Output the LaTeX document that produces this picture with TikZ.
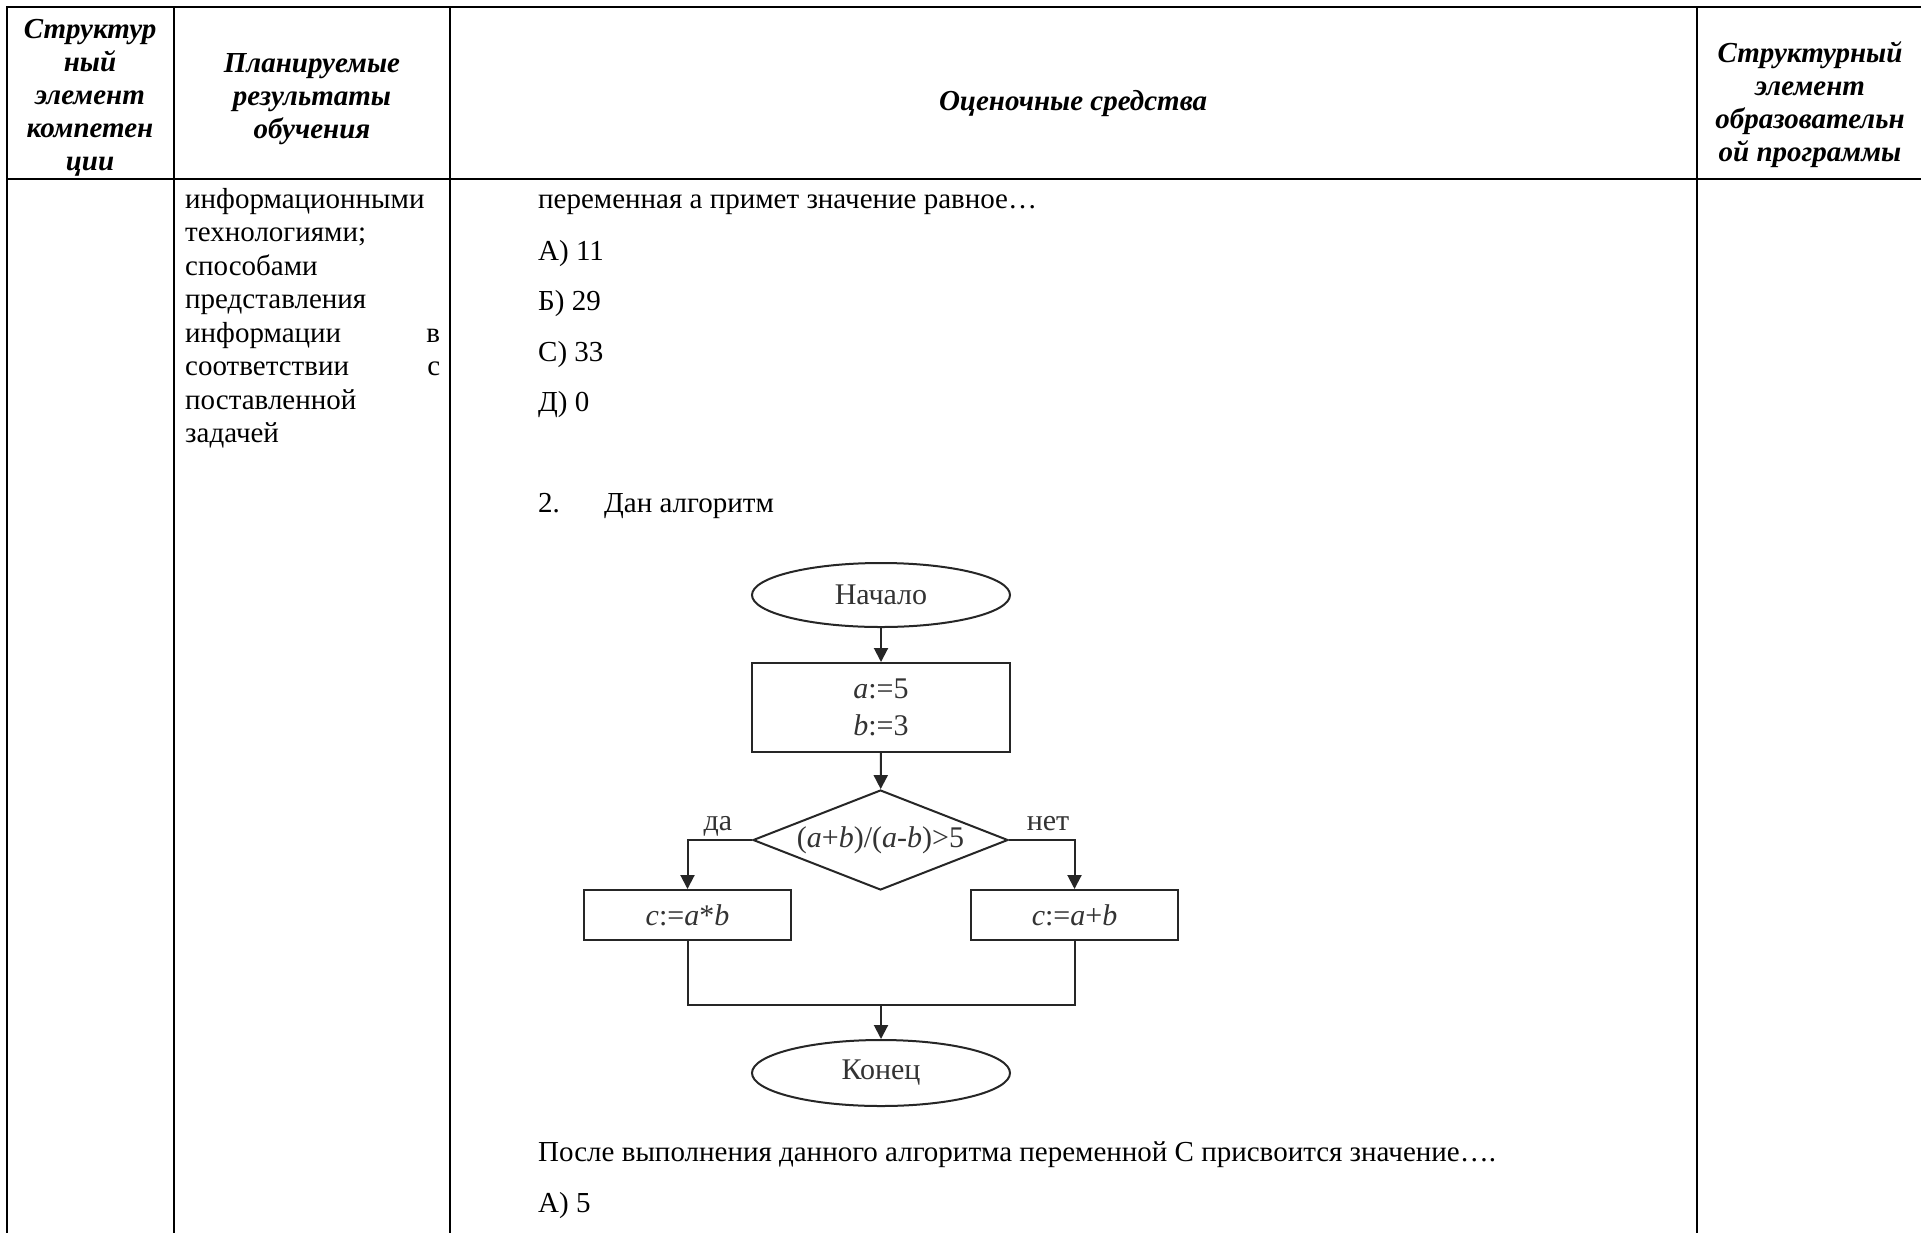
\documentclass[tikz,border=0pt]{standalone}
\usepackage{fontspec}
\setmainfont{Liberation Serif}
\usetikzlibrary{shapes.geometric,arrows.meta}
\newcommand\bodyfont{\fontsize{29}{33.5}\selectfont}
\newcommand\headfont{\fontsize{29}{33}\selectfont\bfseries\itshape}
\newcommand\flowfont{\fontsize{30}{37}\selectfont}
\begin{document}
\begin{tikzpicture}[x=1pt,y=-1pt,
  tbl/.style={line width=2pt,line cap=rect},
  txt/.style={anchor=base west,inner sep=0pt,font=\bodyfont},
  hd/.style={anchor=base,inner sep=0pt,font=\headfont},
  fl/.style={draw=black!85,line width=2pt,font=\flowfont,text=black!80,inner sep=0pt},
  conn/.style={draw=black!85,line width=2pt},
  arr/.style={conn,-{Triangle[length=14pt,width=14pt]}},
  lbl/.style={anchor=base,inner sep=0pt,font=\flowfont,text=black!80}]
\useasboundingbox (0,0) rectangle (1921,1232);
\fill[white] (0,0) rectangle (1921,1232);
% table
\draw[tbl] (7,7) -- (1921,7);
\draw[tbl] (7,179) -- (1921,179);
\draw[tbl] (7,7) -- (7,1234);
\draw[tbl] (174,7) -- (174,1234);
\draw[tbl] (450,7) -- (450,1234);
\draw[tbl] (1697,7) -- (1697,1234);
% headers
\node[hd] (h1a) at (90,38) {Структур};
\node[hd] (h1b) at (90,71) {ный};
\node[hd] (h1c) at (90,104) {элемент};
\node[hd] (h1d) at (90,137) {компетен};
\node[hd] (h1e) at (90,170) {ции};
\node[hd] (h2a) at (312,72) {Планируемые};
\node[hd] (h2b) at (312,105) {результаты};
\node[hd] (h2c) at (312,138) {обучения};
\node[hd] (h3) at (1073,110) {Оценочные средства};
\node[hd] (h4a) at (1810,62) {Структурный};
\node[hd] (h4b) at (1810,95) {элемент};
\node[hd] (h4c) at (1810,128) {образовательн};
\node[hd] (h4d) at (1810,161) {ой программы};
% column 2 text
\node[txt] (c2a) at (185,208) {информационными};
\node[txt] (c2b) at (185,241.5) {технологиями;};
\node[txt] (c2c) at (185,275) {способами};
\node[txt] (c2d) at (185,308.5) {представления};
\node[txt] (c2e) at (185,342) {\makebox[255pt][l]{информации\hfill в}};
\node[txt] (c2f) at (185,375.5) {\makebox[255pt][l]{соответствии\hfill с}};
\node[txt] (c2g) at (185,409) {поставленной};
\node[txt] (c2h) at (185,442.5) {задачей};
% column 3 text
\node[txt] (q1) at (538,208) {переменная а примет значение равное…};
\node[txt] (a1) at (538,260) {А) 11};
\node[txt] (a2) at (538,310) {Б) 29};
\node[txt] (a3) at (538,361) {С) 33};
\node[txt] (a4) at (538,411) {Д) 0};
\node[txt] (n2) at (538,512) {2.};
\node[txt] (n2t) at (604,512) {Дан алгоритм};
\node[txt] (q2) at (538,1161) {После выполнения данного алгоритма переменной С присвоится значение….};
\node[txt] (b1) at (538,1212) {А) 5};
% flowchart
\node[fl,ellipse,minimum width=258pt,minimum height=64pt] (start) at (881,595) {Начало};
\node[fl,rectangle,minimum width=258pt,minimum height=89pt,align=center] (init) at (881,707.5) {\textit{a}:=5\\\textit{b}:=3};
\node[fl,diamond,minimum width=255pt,minimum height=100pt,shape aspect=2.55] (cond) at (880.5,840) {(\textit{a}+\textit{b})/(\textit{a}-\textit{b})>5};
\node[fl,rectangle,minimum width=207pt,minimum height=50pt] (left) at (687.5,915) {\textit{c}:=\textit{a}*\textit{b}};
\node[fl,rectangle,minimum width=207pt,minimum height=50pt] (right) at (1074.5,915) {\textit{c}:=\textit{a}+\textit{b}};
\node[fl,ellipse,minimum width=258pt,minimum height=66pt] (end) at (881,1073) {Конец};
\coordinate (merge) at (881,1005);
\draw[arr] (start) -- (init);
\draw[arr] (init) -- (cond);
\draw[arr] (cond.west) -| (left.north);
\draw[arr] (cond.east) -| (right.north);
\draw[conn] (left.south) |- (merge) -| (right.south);
\draw[arr] (merge) -- (end.north);
\node[lbl] (yes) at (718,830) {да};
\node[lbl] (no) at (1048,830) {нет};
\end{tikzpicture}
\end{document}
